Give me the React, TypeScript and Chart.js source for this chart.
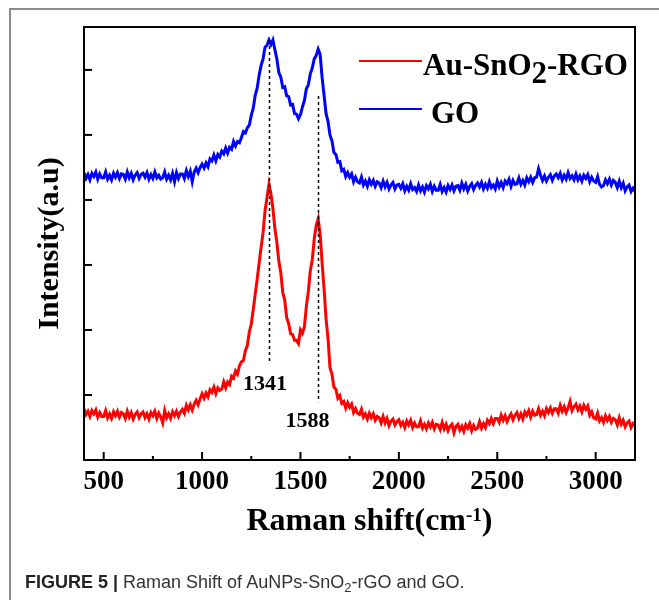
import React, { useEffect, useRef } from 'react';
import { Chart, registerables } from 'chart.js';

Chart.register(...registerables);

// Raman shift sampling grid (cm^-1), 400..3200 every 10
const ramanShift: number[] = Array.from({ length: 281 }, (_, i) => 400 + i * 10);

// Au-SnO2-RGO intensity (a.u.)
const auSnO2RGO: number[] = [
  0.79, 0.70, 0.75, 0.67, 0.76, 0.71, 0.77, 0.66, 0.73, 0.67,
  0.67, 0.76, 0.65, 0.71, 0.64, 0.74, 0.68, 0.75, 0.66, 0.73,
  0.71, 0.64, 0.75, 0.66, 0.73, 0.63, 0.70, 0.74, 0.65, 0.71,
  0.74, 0.65, 0.71, 0.63, 0.73, 0.68, 0.75, 0.64, 0.72, 0.66,
  0.57, 0.76, 0.65, 0.71, 0.64, 0.74, 0.68, 0.75, 0.67, 0.74,
  0.78, 0.72, 0.84, 0.77, 0.85, 0.77, 0.86, 0.92, 0.85, 0.94,
  1.02, 0.95, 1.03, 0.97, 1.08, 1.04, 1.12, 1.02, 1.11, 1.07,
  1.09, 1.20, 1.11, 1.20, 1.16, 1.29, 1.26, 1.37, 1.32, 1.45,
  1.51, 1.53, 1.68, 1.76, 1.97, 2.09, 2.31, 2.55, 2.78, 3.03,
  3.27, 3.50, 3.83, 4.04, 4.24, 4.09, 3.87, 3.56, 3.35, 3.06,
  2.88, 2.58, 2.46, 2.19, 2.10, 1.94, 1.93, 1.84, 1.84, 1.79,
  2.00, 1.95, 2.05, 2.37, 2.59, 2.91, 3.08, 3.40, 3.61, 3.71,
  3.47, 3.03, 2.63, 2.17, 1.87, 1.42, 1.32, 1.12, 1.09, 0.95,
  0.99, 0.87, 0.90, 0.80, 0.88, 0.81, 0.86, 0.73, 0.79, 0.72,
  0.70, 0.78, 0.66, 0.71, 0.63, 0.72, 0.65, 0.71, 0.61, 0.67,
  0.65, 0.57, 0.67, 0.57, 0.64, 0.53, 0.60, 0.63, 0.54, 0.59,
  0.62, 0.53, 0.58, 0.50, 0.60, 0.54, 0.61, 0.50, 0.57, 0.51,
  0.51, 0.60, 0.49, 0.55, 0.48, 0.57, 0.51, 0.58, 0.48, 0.55,
  0.54, 0.47, 0.58, 0.48, 0.55, 0.45, 0.52, 0.55, 0.42, 0.52,
  0.55, 0.46, 0.52, 0.44, 0.54, 0.49, 0.56, 0.45, 0.53, 0.47,
  0.49, 0.59, 0.49, 0.56, 0.50, 0.61, 0.56, 0.64, 0.56, 0.64,
  0.64, 0.58, 0.69, 0.61, 0.68, 0.59, 0.66, 0.71, 0.62, 0.69,
  0.73, 0.64, 0.71, 0.63, 0.74, 0.69, 0.76, 0.66, 0.75, 0.69,
  0.70, 0.79, 0.69, 0.75, 0.68, 0.79, 0.73, 0.80, 0.72, 0.79,
  0.79, 0.72, 0.84, 0.75, 0.82, 0.73, 0.80, 0.90, 0.76, 0.82,
  0.86, 0.77, 0.83, 0.74, 0.84, 0.78, 0.83, 0.69, 0.74, 0.65,
  0.63, 0.72, 0.60, 0.65, 0.58, 0.68, 0.61, 0.67, 0.58, 0.64,
  0.62, 0.54, 0.65, 0.55, 0.61, 0.51, 0.57, 0.60, 0.50, 0.56,
  0.53,
];

// GO intensity (a.u.)
const goIntensity: number[] = [
  4.42, 4.33, 4.39, 4.31, 4.41, 4.36, 4.43, 4.32, 4.40, 4.34,
  4.34, 4.43, 4.32, 4.38, 4.31, 4.41, 4.35, 4.42, 4.33, 4.40,
  4.39, 4.32, 4.43, 4.34, 4.41, 4.31, 4.38, 4.42, 4.33, 4.39,
  4.41, 4.35, 4.42, 4.32, 4.39, 4.33, 4.43, 4.34, 4.38, 4.32,
  4.34, 4.43, 4.32, 4.38, 4.31, 4.41, 4.28, 4.42, 4.33, 4.40,
  4.40, 4.33, 4.45, 4.36, 4.44, 4.28, 4.43, 4.49, 4.42, 4.50,
  4.55, 4.49, 4.57, 4.51, 4.63, 4.60, 4.69, 4.60, 4.70, 4.66,
  4.75, 4.71, 4.80, 4.72, 4.81, 4.78, 4.90, 4.83, 4.90, 4.88,
  4.96, 5.05, 5.03, 5.11, 5.15, 5.30, 5.41, 5.61, 5.72, 5.92,
  6.07, 6.17, 6.35, 6.38, 6.46, 6.39, 6.46, 6.31, 6.17, 5.96,
  5.89, 5.73, 5.74, 5.60, 5.59, 5.46, 5.47, 5.33, 5.32, 5.25,
  5.31, 5.43, 5.53, 5.71, 5.77, 5.94, 6.03, 6.17, 6.22, 6.32,
  6.24, 5.88, 5.61, 5.33, 5.21, 5.00, 4.91, 4.73, 4.70, 4.58,
  4.59, 4.45, 4.47, 4.36, 4.42, 4.35, 4.40, 4.28, 4.35, 4.28,
  4.26, 4.35, 4.23, 4.29, 4.21, 4.31, 4.24, 4.30, 4.21, 4.28,
  4.26, 4.19, 4.29, 4.20, 4.27, 4.17, 4.23, 4.27, 4.17, 4.23,
  4.24, 4.18, 4.25, 4.14, 4.21, 4.15, 4.25, 4.16, 4.19, 4.13,
  4.23, 4.14, 4.20, 4.12, 4.22, 4.17, 4.24, 4.13, 4.21, 4.15,
  4.15, 4.24, 4.13, 4.19, 4.12, 4.22, 4.16, 4.23, 4.14, 4.21,
  4.22, 4.15, 4.26, 4.17, 4.24, 4.14, 4.21, 4.25, 4.16, 4.22,
  4.26, 4.20, 4.27, 4.17, 4.24, 4.18, 4.28, 4.19, 4.23, 4.17,
  4.29, 4.20, 4.27, 4.19, 4.29, 4.25, 4.32, 4.21, 4.30, 4.24,
  4.25, 4.34, 4.24, 4.30, 4.23, 4.34, 4.28, 4.35, 4.27, 4.34,
  4.35, 4.48, 4.38, 4.30, 4.37, 4.29, 4.35, 4.39, 4.30, 4.37,
  4.40, 4.34, 4.41, 4.31, 4.38, 4.32, 4.42, 4.33, 4.37, 4.31,
  4.40, 4.31, 4.37, 4.29, 4.38, 4.33, 4.39, 4.28, 4.35, 4.29,
  4.27, 4.36, 4.24, 4.20, 4.22, 4.31, 4.25, 4.32, 4.23, 4.30,
  4.27, 4.19, 4.29, 4.19, 4.26, 4.14, 4.20, 4.23, 4.13, 4.18,
  4.13,
];

const seriesNames: string[] = ['Au-SnO', '2', '-RGO'];
const goName = 'GO';
const xTickValues: number[] = [500, 1000, 1500, 2000, 2500, 3000];
const xMinorTicks: number[] = [750, 1250, 1750, 2250, 2750];
const yTickValues: number[] = [1, 2, 3, 4, 5, 6];

// Peak annotations
const peakPositions: number[] = [1341, 1588];
const peakLabels: string[] = ['1341', '1588'];
const peakLineTop: number[] = [6.46, 5.6];
const peakLineBottom: number[] = [1.49, 0.89];
const peakLabelX: number[] = [1320, 1536];
const peakLabelY: number[] = [1.08, 0.51];

const SERIF = "'Liberation Serif', 'Times New Roman', serif";

const decorPlugin = {
  id: 'decor',
  afterDatasetsDraw(chart: any) {
    const { ctx, chartArea: a, scales } = chart;
    const xs = scales.x;
    const ys = scales.y;
    ctx.save();

    // dashed peak lines
    ctx.strokeStyle = '#000';
    ctx.lineWidth = 1.5;
    ctx.setLineDash([3, 3]);
    peakPositions.forEach((p, i) => {
      const px = Math.round(xs.getPixelForValue(p)) + 0.5;
      ctx.beginPath();
      ctx.moveTo(px, ys.getPixelForValue(peakLineTop[i]));
      ctx.lineTo(px, ys.getPixelForValue(peakLineBottom[i]));
      ctx.stroke();
    });
    ctx.setLineDash([]);

    // frame
    ctx.lineWidth = 2;
    ctx.strokeRect(a.left, a.top, a.right - a.left, a.bottom - a.top);

    // ticks (inward)
    ctx.lineWidth = 2;
    xTickValues.forEach((v) => {
      const px = xs.getPixelForValue(v);
      ctx.beginPath();
      ctx.moveTo(px, a.bottom);
      ctx.lineTo(px, a.bottom - 8);
      ctx.stroke();
    });
    xMinorTicks.forEach((v) => {
      const px = xs.getPixelForValue(v);
      ctx.beginPath();
      ctx.moveTo(px, a.bottom);
      ctx.lineTo(px, a.bottom - 4);
      ctx.stroke();
    });
    yTickValues.forEach((v) => {
      const py = ys.getPixelForValue(v);
      ctx.beginPath();
      ctx.moveTo(a.left, py);
      ctx.lineTo(a.left + 8, py);
      ctx.stroke();
    });

    // peak labels
    ctx.fillStyle = '#000';
    ctx.font = `bold 22px ${SERIF}`;
    ctx.textAlign = 'center';
    ctx.textBaseline = 'alphabetic';
    peakLabels.forEach((t, i) => {
      ctx.fillText(t, xs.getPixelForValue(peakLabelX[i]), ys.getPixelForValue(peakLabelY[i]));
    });

    // legend
    ctx.lineWidth = 2;
    ctx.strokeStyle = '#ff0000';
    ctx.beginPath();
    ctx.moveTo(359, 61);
    ctx.lineTo(422, 61);
    ctx.stroke();
    ctx.strokeStyle = '#0000ff';
    ctx.beginPath();
    ctx.moveTo(359, 109);
    ctx.lineTo(422, 109);
    ctx.stroke();
    ctx.font = `bold 31px ${SERIF}`;
    ctx.textAlign = 'left';
    let lx = 423;
    ctx.fillText(seriesNames[0], lx, 75);
    lx += ctx.measureText(seriesNames[0]).width;
    ctx.fillText(seriesNames[1], lx, 83);
    lx += ctx.measureText(seriesNames[1]).width;
    ctx.fillText(seriesNames[2], lx, 75);
    ctx.fillText(goName, 431, 123);

    // x axis title with superscript
    const main1 = 'Raman shift(cm';
    const sup = '-1';
    const main2 = ')';
    ctx.font = `bold 32px ${SERIF}`;
    const w1 = ctx.measureText(main1).width;
    const w3 = ctx.measureText(main2).width;
    ctx.font = `bold 19px ${SERIF}`;
    const w2 = ctx.measureText(sup).width;
    const total = w1 + w2 + w3;
    const cx = (a.left + a.right) / 2 + 10;
    let tx = cx - total / 2;
    ctx.font = `bold 32px ${SERIF}`;
    ctx.fillText(main1, tx, 530);
    tx += w1;
    ctx.font = `bold 19px ${SERIF}`;
    ctx.fillText(sup, tx, 521);
    tx += w2;
    ctx.font = `bold 32px ${SERIF}`;
    ctx.fillText(main2, tx, 530);

    ctx.restore();
  },
};

export default function App() {
  const canvasRef = useRef<HTMLCanvasElement | null>(null);

  useEffect(() => {
    const canvas = canvasRef.current;
    if (!canvas) return;
    const chart = new Chart(canvas, {
      type: 'line',
      data: {
        datasets: [
          {
            label: 'Au-SnO2-RGO',
            data: ramanShift.map((x, i) => ({ x, y: auSnO2RGO[i] })),
            borderColor: '#ff0000',
            backgroundColor: '#ff0000',
            borderWidth: 3,
            pointRadius: 0,
            tension: 0,
          },
          {
            label: 'GO',
            data: ramanShift.map((x, i) => ({ x, y: goIntensity[i] })),
            borderColor: '#0000ff',
            backgroundColor: '#0000ff',
            borderWidth: 3,
            pointRadius: 0,
            tension: 0,
          },
        ],
      },
      options: {
        responsive: false,
        animation: false,
        devicePixelRatio: 1,
        layout: { padding: { top: 27, right: 24, left: 0, bottom: 0 } },
        plugins: { legend: { display: false }, tooltip: { enabled: false }, title: { display: false } },
        scales: {
          x: {
            type: 'linear',
            min: 400,
            max: 3200,
            grid: { display: false, drawTicks: false },
            border: { display: false },
            afterBuildTicks: (s: any) => {
              s.ticks = xTickValues.map((v) => ({ value: v }));
            },
            afterFit: (s: any) => {
              s.height = 140;
            },
            ticks: {
              padding: 6,
              color: '#000',
              maxRotation: 0,
              autoSkip: false,
              font: { family: SERIF, size: 27, weight: 'bold' },
              callback: (v: any) => String(v),
            },
          },
          y: {
            type: 'linear',
            min: 0,
            max: 6.66,
            grid: { display: false, drawTicks: false },
            border: { display: false },
            ticks: { display: false },
            afterFit: (s: any) => {
              s.width = 84;
            },
            title: {
              display: true,
              text: 'Intensity(a.u)',
              color: '#000',
              font: { family: SERIF, size: 30, weight: 'bold' },
              padding: { top: 32, bottom: 0 },
            },
          },
        },
      },
      plugins: [decorPlugin],
    });
    return () => chart.destroy();
  }, []);

  return (
    <div>
      <div
        style={{
          position: 'absolute',
          left: 9,
          top: 8,
          width: 650,
          height: 592,
          boxSizing: 'border-box',
          borderLeft: '2px solid #8c8c8c',
          borderTop: '2px solid #8c8c8c',
        }}
      />
      <canvas
        ref={canvasRef}
        width={659}
        height={600}
        style={{ position: 'absolute', left: 0, top: 0, width: 659, height: 600 }}
      />
      <div
        style={{
          position: 'absolute',
          left: 25,
          top: 573,
          fontFamily: "'Liberation Sans', Arial, sans-serif",
          fontSize: 18,
          lineHeight: '18px',
          color: '#333',
          whiteSpace: 'nowrap',
        }}
      >
        <span style={{ fontWeight: 'bold', color: '#222' }}>FIGURE 5 |</span> Raman Shift of AuNPs-SnO
        <span style={{ fontSize: 13, position: 'relative', top: 4 }}>2</span>-rGO and GO.
      </div>
    </div>
  );
}
